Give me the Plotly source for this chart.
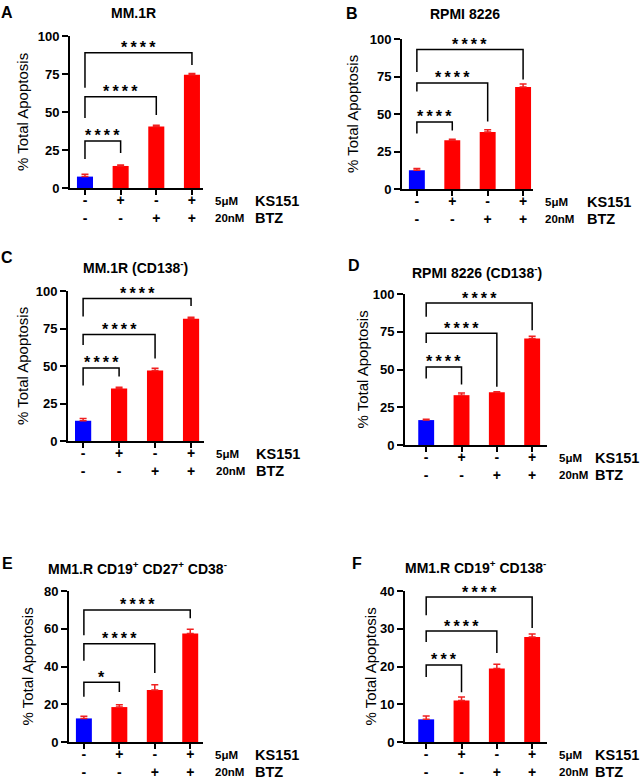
import plotly.graph_objects as go

W, H = 641, 781

# ---------------- data ----------------
ks151_row = ["-", "+", "-", "+"]
btz_row = ["-", "-", "+", "+"]
bar_colors = ["#0000FF", "#FF0000", "#FF0000", "#FF0000"]
letters = ["A", "B", "C", "D", "E", "F"]
titles = [
    "MM.1R",
    "RPMI 8226",
    "MM.1R (CD138<sup>-</sup>)",
    "RPMI 8226 (CD138<sup>-</sup>)",
    "MM1.R CD19<sup>+</sup> CD27<sup>+</sup> CD38<sup>-</sup>",
    "MM1.R CD19<sup>+</sup> CD138<sup>-</sup>",
]
y_title = "% Total Apoptosis"

values_A = [7.5, 14.5, 40.5, 74.5]
errors_A = [1.5, 0.7, 0.8, 0.8]
values_B = [12.5, 32.5, 38.0, 68.0]
errors_B = [1.2, 0.6, 1.5, 2.0]
values_C = [13.5, 35.0, 47.0, 81.5]
errors_C = [1.5, 0.8, 1.5, 1.0]
values_D = [16.5, 33.0, 35.0, 70.5]
errors_D = [0.5, 1.5, 0.3, 1.5]
values_E = [12.5, 18.5, 27.5, 57.5]
errors_E = [1.2, 1.3, 2.8, 2.3]
values_F = [6.0, 11.0, 19.5, 27.8]
errors_F = [0.9, 0.9, 1.1, 0.8]

# significance brackets: (compared group index, bracket height, left leg end, right leg end, label)
brackets_A = [(1, 31, 19, 23, "****"), (2, 60, 46, 48, "****"), (3, 89, 66, 81, "****")]
brackets_B = [(1, 44.7, 37, 39, "****"), (2, 70.7, 65, 45, "****"), (3, 93, 78, 73, "****")]
brackets_C = [(1, 48.7, 37, 43, "****"), (2, 71, 64, 55, "****"), (3, 95, 83, 90, "****")]
brackets_D = [(1, 51.7, 44, 40, "****"), (2, 74, 67.5, 38.5, "****"), (3, 94, 85, 76, "****")]
brackets_E = [(1, 31.7, 24, 26.5, "*"), (2, 52, 43, 36.5, "****"), (3, 70, 56.6, 65.6, "****")]
brackets_F = [(1, 20.4, 17.2, 13.2, "***"), (2, 29.4, 26.5, 23.6, "****"), (3, 38.4, 33.6, 30.2, "****")]

y_max = [100, 100, 100, 100, 80, 40]
y_dtick = [25, 25, 25, 25, 20, 10]

all_values = [values_A, values_B, values_C, values_D, values_E, values_F]
all_errors = [errors_A, errors_B, errors_C, errors_D, errors_E, errors_F]
all_brackets = [brackets_A, brackets_B, brackets_C, brackets_D, brackets_E, brackets_F]

# ---------------- layout (pixels) ----------------
# (x_left, x_right, y_top, y_bottom)
panel_px = [
    (70, 203, 36, 188),
    (402, 533, 39, 189),
    (68, 204, 291, 441),
    (405, 547, 294, 445),
    (69, 203, 591, 742),
    (405, 547, 591, 742),
]
x_ranges = [
    [-0.42, 3.31],
    [-0.42, 3.28],
    [-0.42, 3.36],
    [-0.60, 3.42],
    [-0.42, 3.36],
    [-0.60, 3.42],
]
title_px = [(133, 13), (465, 14), (135, 267), (477, 272), (137, 568), (475, 567)]
letter_px = [(7, 12), (352, 13), (7, 257), (354, 265), (7, 563), (357, 563)]
ytitle_x_px = [23, 352, 22, 362, 27, 370]
label_gap_px = [50, 52, 50, 46, 50, 46]

FONT = "Liberation Sans, Arial, sans-serif"


def fx(px):
    return px / W


def fy(py):
    return 1 - py / H


fig = go.Figure()
layout = dict(
    width=W, height=H,
    margin=dict(l=0, r=0, t=0, b=0, autoexpand=False),
    paper_bgcolor="white", plot_bgcolor="white",
    showlegend=False,
    font=dict(family=FONT, color="black"),
)
annotations = []
shapes = []

for i in range(6):
    n = i + 1
    xa = "x" if n == 1 else f"x{n}"
    ya = "y" if n == 1 else f"y{n}"
    xl, xr, yt, yb = panel_px[i]
    fig.add_trace(go.Bar(
        x=[0, 1, 2, 3], y=all_values[i],
        marker=dict(color=bar_colors, line=dict(width=0)),
        width=0.45,
        error_y=dict(type="data", array=all_errors[i], arrayminus=[0] * 4,
                     symmetric=False, color="#F02020", thickness=1.5, width=3.5),
        xaxis=xa, yaxis=ya,
    ))
    layout[f"xaxis{'' if n == 1 else n}"] = dict(
        domain=[fx(xl), fx(xr)], anchor=ya, range=x_ranges[i],
        showline=True, linecolor="black", linewidth=2,
        ticks="outside", ticklen=5, tickwidth=2, tickcolor="black",
        tickmode="array", tickvals=[0, 1, 2, 3],
        ticktext=[f"<b>{k}</b><br><b>{b}</b>" for k, b in zip(ks151_row, btz_row)],
        tickfont=dict(size=14, family=FONT, color="black"),
        ticklabelstandoff=-7, automargin=False,
        showgrid=False, zeroline=False, fixedrange=True,
    )
    layout[f"yaxis{'' if n == 1 else n}"] = dict(
        domain=[fy(yb), fy(yt)], anchor=xa, range=[0, y_max[i]],
        showline=True, linecolor="black", linewidth=2,
        ticks="outside", ticklen=6, tickwidth=2, tickcolor="black",
        dtick=y_dtick[i], tick0=0, automargin=False,
        tickfont=dict(size=13, family=FONT, color="black", weight="bold"),
        showgrid=False, zeroline=False, fixedrange=True,
    )
    # y-axis title
    annotations.append(dict(text=y_title, x=fx(ytitle_x_px[i]), y=fy((yt + yb) / 2),
                            xref="paper", yref="paper", textangle=-90,
                            showarrow=False, xanchor="center", yanchor="middle",
                            font=dict(size=15, family=FONT, color="black")))
    # title and panel letter
    tx, ty = title_px[i]
    annotations.append(dict(text=f"<b>{titles[i]}</b>", x=fx(tx), y=fy(ty), xref="paper", yref="paper",
                            showarrow=False, xanchor="center", yanchor="middle",
                            font=dict(size=14, family=FONT, color="black")))
    lx, ly = letter_px[i]
    annotations.append(dict(text=f"<b>{letters[i]}</b>", x=fx(lx), y=fy(ly), xref="paper", yref="paper",
                            showarrow=False, xanchor="center", yanchor="middle",
                            font=dict(size=16, family=FONT, color="black")))
    # condition labels to the right
    for row, (small, big) in enumerate([("5μM", "KS151"), ("20nM", "BTZ")]):
        ry = yb + 13 + 17 * row
        annotations.append(dict(text=f"<b>{small}</b>", x=fx(xr + 10), y=fy(ry), xref="paper", yref="paper",
                                showarrow=False, xanchor="left", yanchor="middle",
                                font=dict(size=11.5, family=FONT, color="black")))
        annotations.append(dict(text=f"<b>{big}</b>", x=fx(xr + label_gap_px[i]), y=fy(ry),
                                xref="paper", yref="paper",
                                showarrow=False, xanchor="left", yanchor="middle",
                                font=dict(size=14.5, family=FONT, color="black")))
    # significance brackets
    for (j, top, lb, rb, lab) in all_brackets[i]:
        shapes.append(dict(type="path", xref=xa, yref=ya,
                           path=f"M 0,{lb} L 0,{top} L {j},{top} L {j},{rb}",
                           line=dict(color="black", width=1.5)))
        annotations.append(dict(text=f"<b>{'&#8201;'.join(lab)}</b>", x=j / 2, y=top, xref=xa, yref=ya,
                                showarrow=False, xanchor="center", yanchor="middle", yshift=5,
                                font=dict(size=16, family=FONT, color="black")))

layout["annotations"] = annotations
layout["shapes"] = shapes
fig.update_layout(**layout)
fig.write_html("out.html", config={"displayModeBar": False},
               post_script="document.body.style.margin='0px';document.body.style.overflow='hidden';")
